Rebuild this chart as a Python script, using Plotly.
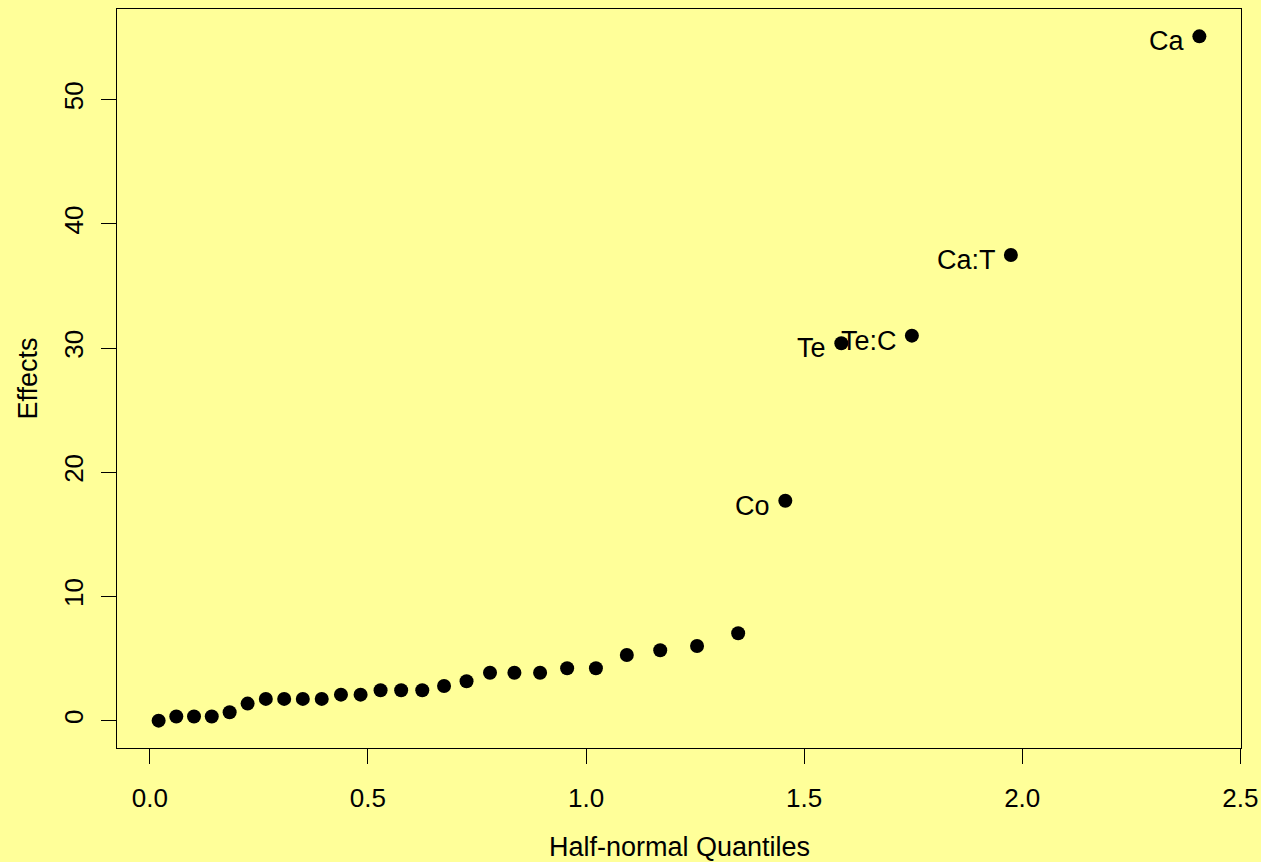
import plotly.graph_objects as go

# Half-normal quantiles (x) and absolute effects (y), sorted ascending
quantiles = [0.0202, 0.0607, 0.1013, 0.1420, 0.1830, 0.2242, 0.2659, 0.3080,
             0.3507, 0.3941, 0.4382, 0.4832, 0.5290, 0.5762, 0.6246, 0.6745,
             0.7261, 0.7799, 0.8358, 0.8947, 0.9567, 1.0227, 1.0935, 1.1701,
             1.2545, 1.3488, 1.4569, 1.5853, 1.7470, 1.9740, 2.4061]
effects = [0.00, 0.33, 0.33, 0.33, 0.68, 1.37, 1.75, 1.75,
           1.75, 1.75, 2.09, 2.09, 2.45, 2.45, 2.45, 2.79,
           3.17, 3.86, 3.86, 3.86, 4.22, 4.22, 5.29, 5.67,
           6.01, 7.04, 17.71, 30.39, 31.00, 37.50, 55.10]
# names of the largest effects, in the same order as their points
top_labels = ["Co", "Te", "Te:C", "Ca:T", "Ca"]

x_ticks = [0.0, 0.5, 1.0, 1.5, 2.0, 2.5]
y_ticks = [0, 10, 20, 30, 40, 50]

BG = "#FFFF99"
FONT = "Liberation Sans, Arial, Helvetica, sans-serif"
FS_TICK = 26
FS_TEXT = 27

# R-style 4% padding around the data range
xmin, xmax = min(quantiles), max(quantiles)
ymin, ymax = min(effects), max(effects)
xpad = 0.04 * (xmax - xmin)
ypad = 0.04 * (ymax - ymin)

fig = go.Figure()
fig.add_trace(go.Scatter(
    x=quantiles, y=effects, mode="markers",
    marker=dict(color="black", size=14, line=dict(width=0)),
    hoverinfo="x+y", showlegend=False,
))

n = len(quantiles)
for k, name in enumerate(top_labels):
    i = n - len(top_labels) + k
    fig.add_annotation(
        x=quantiles[i], y=effects[i], text=name, showarrow=False,
        xanchor="right", yanchor="middle", xshift=-13, yshift=-5,
        font=dict(family=FONT, size=FS_TEXT, color="black"),
    )

# axis titles
fig.add_annotation(
    xref="paper", yref="paper", x=0.5, y=0, text="Half-normal Quantiles",
    showarrow=False, xanchor="center", yanchor="middle", yshift=-99,
    font=dict(family=FONT, size=FS_TEXT, color="black"),
)
fig.add_annotation(
    xref="paper", yref="paper", x=0, y=0.5, text="Effects", textangle=-90,
    showarrow=False, xanchor="center", yanchor="middle", xshift=-90,
    font=dict(family=FONT, size=FS_TEXT, color="black"),
)

axis_common = dict(
    showgrid=False, zeroline=False, showline=True, mirror=True,
    linecolor="black", linewidth=1, ticks="outside", ticklen=15,
    tickwidth=1, tickcolor="black", automargin=False,
    tickfont=dict(family=FONT, size=FS_TICK, color="black"),
)

fig.update_layout(
    width=1261, height=862,
    margin=dict(l=117, r=20, t=9, b=114),
    paper_bgcolor=BG, plot_bgcolor=BG,
    xaxis=dict(range=[xmin - xpad, xmax + xpad], tickvals=x_ticks,
               ticktext=[f"{v:.1f}" for v in x_ticks],
               ticklabelstandoff=12, **axis_common),
    yaxis=dict(range=[ymin - ypad, ymax + ypad], tickvals=y_ticks,
               ticktext=[str(v) for v in y_ticks], tickangle=-90,
               ticklabelstandoff=8, **axis_common),
)

fig.write_html("out.html")
